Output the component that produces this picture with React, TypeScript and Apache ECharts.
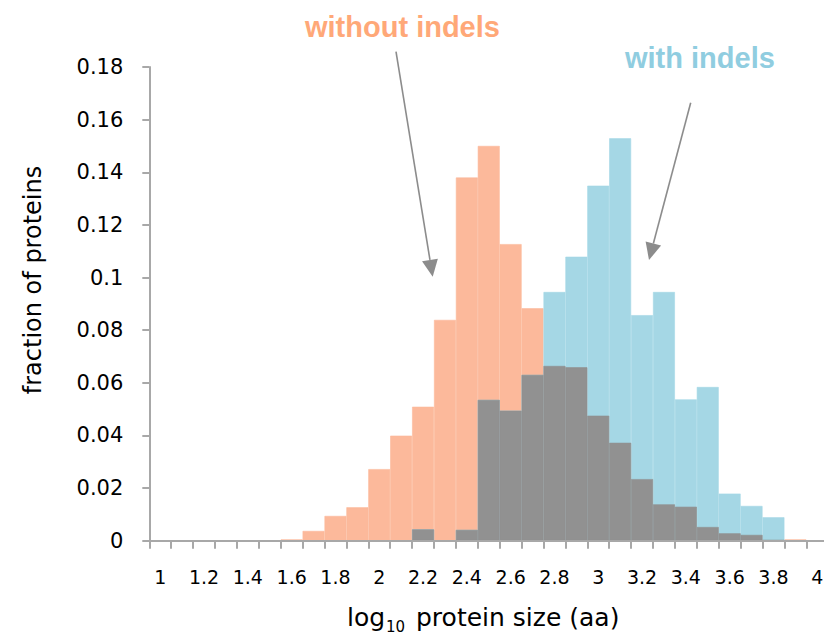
import React, { useEffect, useRef } from 'react';
import * as echarts from 'echarts';

const sizeBins = ['1', '1.1', '1.2', '1.3', '1.4', '1.5', '1.6', '1.7', '1.8', '1.9', '2', '2.1', '2.2', '2.3', '2.4', '2.5', '2.6', '2.7', '2.8', '2.9', '3', '3.1', '3.2', '3.3', '3.4', '3.5', '3.6', '3.7', '3.8', '3.9', '4'];

const withoutIndels = [0, 0, 0, 0, 0, 0, 0.0005, 0.0037, 0.0094, 0.0127, 0.0272, 0.0399, 0.0509, 0.0839, 0.138, 0.150, 0.1127, 0.0883, 0.0664, 0.0659, 0.0475, 0.0372, 0.0234, 0.0138, 0.0129, 0.0052, 0.0028, 0.0022, 0.0003, 0.0005, 0];

const withIndels = [0, 0, 0, 0, 0, 0, 0, 0, 0, 0, 0, 0, 0.0043, 0, 0.0041, 0.0535, 0.0494, 0.063, 0.0945, 0.1079, 0.1349, 0.1529, 0.0857, 0.0945, 0.0537, 0.0584, 0.0179, 0.0132, 0.0089, 0, 0];

const overlap = withoutIndels.map((v, i) => Math.min(v, withIndels[i]));

const ORANGE = '#FCB99B';
const BLUE = '#A5D7E5';
const GRAY = '#919191';
const ARROW = '#8C8C8C';
const AXIS = '#A8A8A8';

function arrow(x1: number, y1: number, x2: number, y2: number) {
  const dx = x2 - x1;
  const dy = y2 - y1;
  const l = Math.sqrt(dx * dx + dy * dy);
  const ux = dx / l;
  const uy = dy / l;
  const hl = 17;
  const hw = 8;
  const bx = x2 - ux * hl;
  const by = y2 - uy * hl;
  return [
    { type: 'line', shape: { x1, y1, x2: bx, y2: by }, style: { stroke: ARROW, lineWidth: 1.6 } },
    {
      type: 'polygon',
      shape: { points: [[x2, y2], [bx - uy * hw, by + ux * hw], [bx + uy * hw, by - ux * hw]] },
      style: { fill: ARROW },
    },
  ];
}

export default function App() {
  const ref = useRef<HTMLDivElement>(null);
  useEffect(() => {
    if (!ref.current) return;
    const chart = echarts.init(ref.current, undefined, { renderer: 'svg' });
    const font = 'DejaVu Sans';
    const barSeries = (name: string, data: number[], color: string, z: number) => ({
      name,
      type: 'bar',
      data,
      barGap: '-100%',
      barCategoryGap: '0%',
      itemStyle: { color, borderColor: color, borderWidth: 0.6 },
      z,
    });
    chart.setOption({
      animation: false,
      backgroundColor: '#ffffff',
      grid: { left: 149.3, top: 67, right: 1.8, bottom: 96.3, containLabel: false },
      xAxis: {
        type: 'category',
        data: sizeBins,
        boundaryGap: true,
        axisLine: { show: true, lineStyle: { color: AXIS, width: 2 } },
        axisTick: { show: true, interval: 0, length: 8, lineStyle: { color: AXIS, width: 2 } },
        axisLabel: { interval: 1, margin: 27, color: '#000', fontSize: 19, fontFamily: font },
        splitLine: { show: false },
        z: 10,
      },
      yAxis: {
        type: 'value',
        min: 0,
        max: 0.18,
        interval: 0.02,
        axisLine: { show: true, lineStyle: { color: AXIS, width: 2 } },
        axisTick: { show: true, length: 7, lineStyle: { color: AXIS, width: 2 } },
        axisLabel: {
          margin: 26,
          color: '#000',
          fontSize: 21,
          fontFamily: font,
          formatter: (v: number) => String(+v.toFixed(2)),
        },
        splitLine: { show: false },
        z: 10,
      },
      series: [
        barSeries('without indels', withoutIndels, ORANGE, 2),
        barSeries('with indels', withIndels, BLUE, 3),
        barSeries('overlap', overlap, GRAY, 4),
      ],
      graphic: [
        {
          type: 'text',
          x: 305,
          y: 26.7,
          style: { text: 'without indels', fill: '#FFA878', font: 'bold 29px "Liberation Sans", Arial, sans-serif', align: 'left', verticalAlign: 'middle' },
        },
        {
          type: 'text',
          x: 625,
          y: 58.3,
          style: { text: 'with indels', fill: '#90CDE0', font: 'bold 29px "Liberation Sans", Arial, sans-serif', align: 'left', verticalAlign: 'middle' },
        },
        ...arrow(396, 51.7, 432.7, 276.7),
        ...arrow(690.7, 102.7, 649, 260),
        {
          type: 'text',
          x: 33.4,
          y: 280,
          rotation: Math.PI / 2,
          style: { text: 'fraction of proteins', fill: '#000', font: '24px "DejaVu Sans"', align: 'center', verticalAlign: 'middle' },
        },
        {
          type: 'text',
          x: 347,
          y: 617,
          style: { text: 'log', fill: '#000', font: '25px "DejaVu Sans"', align: 'left', verticalAlign: 'middle' },
        },
        {
          type: 'text',
          x: 386,
          y: 627.2,
          style: { text: '10', fill: '#000', font: '15px "DejaVu Sans"', align: 'left', verticalAlign: 'middle' },
        },
        {
          type: 'text',
          x: 416,
          y: 617,
          style: { text: 'protein size (aa)', fill: '#000', font: '25px "DejaVu Sans"', align: 'left', verticalAlign: 'middle' },
        },
      ],
    });
    return () => chart.dispose();
  }, []);
  return <div ref={ref} style={{ position: 'fixed', left: 0, top: 0, width: 830, height: 637 }} />;
}
